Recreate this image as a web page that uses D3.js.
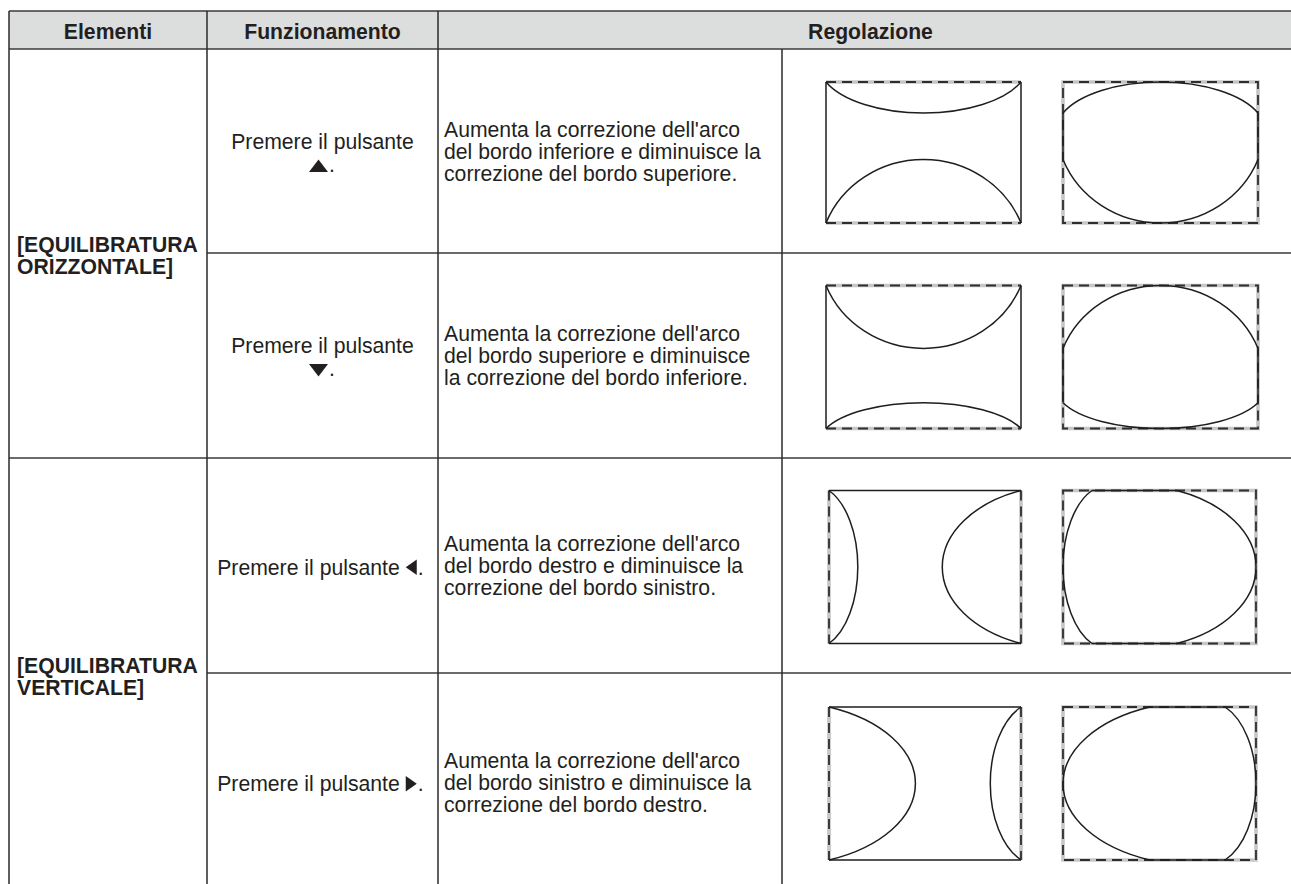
<!DOCTYPE html>
<html><head><meta charset="utf-8">
<script src="https://cdn.jsdelivr.net/npm/d3@7"></script>
<style>html,body{margin:0;padding:0;background:#fff;} svg{display:block;}</style>
</head><body><svg id="c" width="1291" height="884"></svg>
<script>
// ---------- data ----------
const headers = ["Elementi", "Funzionamento", "Regolazione"];
const groups = [["[EQUILIBRATURA", "ORIZZONTALE]"], ["[EQUILIBRATURA", "VERTICALE]"]];
const groupRows = [[0, 1], [2, 3]];
const opLabel = "Premere il pulsante";
const opArrows = ["up", "down", "left", "right"];
const descriptions = [
  ["Aumenta la correzione dell'arco", "del bordo inferiore e diminuisce la", "correzione del bordo superiore."],
  ["Aumenta la correzione dell'arco", "del bordo superiore e diminuisce", "la correzione del bordo inferiore."],
  ["Aumenta la correzione dell'arco", "del bordo destro e diminuisce la", "correzione del bordo sinistro."],
  ["Aumenta la correzione dell'arco", "del bordo sinistro e diminuisce la", "correzione del bordo destro."]
];
const shapeAxis = ["h", "h", "v", "v"];     // which pair of edges is bowed
const bowStart = [0.22, 0.44, 0.15, 0.45];  // top (h) / left (v) correction fraction
const bowEnd   = [0.45, 0.18, 0.41, 0.16];  // bottom (h) / right (v) correction fraction

// ---------- layout ----------
const FONT = "'Liberation Sans', Arial, Helvetica, sans-serif";
const FS = 21.2, LH = 22;
const colX = [9, 207, 438, 782, 1303];
const headTop = 11, headBot = 49;
const rowY = [49, 253, 458, 673, 891];
const boxH = [141, 143, 153, 153];
const boxX = {h: [[826, 1021], [1063, 1258]], v: [[829, 1021], [1063, 1256]]};
const textCol = "#231f20", lineCol = "#3a3a3a";
const K = 0.93; // how far the arc ellipse extends beyond the chord

const svg = d3.select("#c");
const g = svg.append("g");

// header
g.append("rect").attr("x", colX[0]).attr("y", headTop).attr("width", colX[4] - colX[0])
  .attr("height", headBot - headTop).attr("fill", "#dcdddd");
const headCenters = [(colX[0] + colX[1]) / 2, (colX[1] + colX[2]) / 2, (colX[2] + colX[4]) / 2];
g.selectAll("text.head").data(headers).join("text").attr("class", "head")
  .attr("x", (d, i) => headCenters[i]).attr("y", (headTop + headBot) / 2 + 1)
  .attr("dy", "0.36em").attr("text-anchor", "middle")
  .attr("font-family", FONT).attr("font-size", FS).attr("font-weight", "bold")
  .attr("fill", textCol).text(d => d);

// grid lines
const hLines = [
  [colX[0], colX[4], headTop], [colX[0], colX[4], headBot],
  [colX[1], colX[4], rowY[1]], [colX[0], colX[4], rowY[2]], [colX[1], colX[4], rowY[3]]
];
const vLines = [
  [colX[0], headTop, rowY[4]], [colX[1], headTop, rowY[4]], [colX[2], headTop, rowY[4]], [colX[3], headBot, rowY[4]]
];
g.selectAll("line.h").data(hLines).join("line").attr("class", "h")
  .attr("x1", d => d[0]).attr("x2", d => d[1]).attr("y1", d => d[2]).attr("y2", d => d[2])
  .attr("stroke", lineCol).attr("stroke-width", 1.7);
g.selectAll("line.v").data(vLines).join("line").attr("class", "v")
  .attr("x1", d => d[0]).attr("x2", d => d[0]).attr("y1", d => d[1]).attr("y2", d => d[2])
  .attr("stroke", "#2a2a2a").attr("stroke-width", 1.5);

// group labels
groups.forEach((lines, gi) => {
  const [r0, r1] = groupRows[gi];
  const cy = (rowY[r0] + rowY[r1 + 1]) / 2 + 2;
  lines.forEach((t, li) => {
    g.append("text").attr("x", colX[0] + 8).attr("y", cy + (li - (lines.length - 1) / 2) * LH)
      .attr("dy", "0.36em").attr("font-family", FONT).attr("font-size", FS).attr("font-weight", "bold")
      .attr("fill", textCol).text(t);
  });
});

// arrow glyph path, anchored at left x, baseline y
function arrowPath(dir, x, base) {
  const p = d3.path();
  if (dir === "up") { p.moveTo(x, base); p.lineTo(x + 19, base); p.lineTo(x + 9.5, base - 12.5); }
  else if (dir === "down") { p.moveTo(x, base - 12.5); p.lineTo(x + 19, base - 12.5); p.lineTo(x + 9.5, base); }
  else if (dir === "left") { p.moveTo(x + 11, base - 15); p.lineTo(x + 11, base + 0.5); p.lineTo(x, base - 7.25); }
  else { p.moveTo(x, base - 15); p.lineTo(x, base + 0.5); p.lineTo(x + 11, base - 7.25); }
  p.closePath();
  return p.toString();
}
const arrowW = {up: 19, down: 19, left: 11, right: 11};

// operation column
opArrows.forEach((dir, r) => {
  const cx = (colX[1] + colX[2]) / 2;
  const cy = (rowY[r] + rowY[r + 1]) / 2 + 1;
  const mk = (x, y, t, anchor) => g.append("text").attr("x", x).attr("y", y)
    .attr("text-anchor", anchor).attr("font-family", FONT).attr("font-size", FS).attr("fill", textCol).text(t);
  if (dir === "up" || dir === "down") {
    const b1 = cy - LH / 2 + 7.5, b2 = cy + LH / 2 + 8.5;
    mk(cx, b1, opLabel, "middle");
    const dotW = 6, tot = arrowW[dir] + 2 + dotW;
    const x0 = cx - tot / 2;
    g.append("path").attr("d", arrowPath(dir, x0, b2 + 0.5)).attr("fill", textCol);
    mk(x0 + arrowW[dir] + 1, b2, ".", "start");
  } else {
    const base = cy + 8;
    const t = mk(0, base, opLabel, "start");
    const tw = t.node().getComputedTextLength() + 6;
    const tot = tw + arrowW[dir] + 7;
    const x0 = cx - tot / 2 - 2;
    t.attr("x", x0);
    g.append("path").attr("d", arrowPath(dir, x0 + tw, base)).attr("fill", textCol);
    mk(x0 + tw + arrowW[dir] + 1, base, ".", "start");
  }
});

// description column
descriptions.forEach((lines, r) => {
  const cy = (rowY[r] + rowY[r + 1]) / 2;
  lines.forEach((t, li) => {
    g.append("text").attr("x", colX[2] + 6).attr("y", cy + (li - (lines.length - 1) / 2) * LH)
      .attr("dy", "0.36em").attr("font-family", FONT).attr("font-size", FS).attr("fill", textCol).text(t);
  });
});

// diagrams
function dashed(sel, d) {
  sel.append("path").attr("d", d).attr("fill", "none").attr("stroke", "#c6c6c6").attr("stroke-width", 3.6);
  sel.append("path").attr("d", d).attr("fill", "none").attr("stroke", "#2e2e2e").attr("stroke-width", 1.8)
    .attr("stroke-dasharray", "10,6");
}
function solid(sel, d) {
  sel.append("path").attr("d", d).attr("fill", "none").attr("stroke", "#1e1e1e").attr("stroke-width", 1.5);
}
function seg(x, y, a, b, c, e) { return `M${x(a)},${y(b)}L${x(c)},${y(e)}`; }
// elliptical arc across a chord with sagitta `sag`; horizontal or vertical chord
function arc(x1, y1, x2, y2, sag, sweep) {
  const half = Math.hypot(x2 - x1, y2 - y1) / 2;
  const along = half / K;
  const across = sag / (1 - Math.sqrt(1 - K * K));
  const horiz = Math.abs(y2 - y1) < 1e-6;
  const rx = horiz ? along : across, ry = horiz ? across : along;
  return `M${x1},${y1}A${rx},${ry} 0 0 ${sweep} ${x2},${y2}`;
}

shapeAxis.forEach((ax, r) => {
  const cy = (rowY[r] + rowY[r + 1]) / 2 + 1.5;
  const yS = d3.scaleLinear().domain([0, 1]).range([cy - boxH[r] / 2, cy + boxH[r] / 2]);
  const a = bowStart[r], b = bowEnd[r];
  boxX[ax].forEach((bx, k) => {
    const xS = d3.scaleLinear().domain([0, 1]).range(bx);
    const W = bx[1] - bx[0], H = boxH[r];
    const s = g.append("g");
    if (ax === "h") {
      if (k === 0) {
        dashed(s, seg(xS, yS, 0, 0, 1, 0) + seg(xS, yS, 0, 1, 1, 1));
        solid(s, seg(xS, yS, 0, 0, 0, 1) + seg(xS, yS, 1, 0, 1, 1));
        solid(s, arc(xS(0), yS(0), xS(1), yS(0), a * H, 0));
        solid(s, arc(xS(0), yS(1), xS(1), yS(1), b * H, 1));
      } else {
        dashed(s, `M${xS(0)},${yS(0)}H${xS(1)}V${yS(1)}H${xS(0)}Z`);
        solid(s, seg(xS, yS, 0, a, 0, 1 - b) + seg(xS, yS, 1, a, 1, 1 - b));
        solid(s, arc(xS(0), yS(a), xS(1), yS(a), a * H, 1));
        solid(s, arc(xS(0), yS(1 - b), xS(1), yS(1 - b), b * H, 0));
      }
    } else {
      if (k === 0) {
        dashed(s, seg(xS, yS, 0, 0, 0, 1) + seg(xS, yS, 1, 0, 1, 1));
        solid(s, seg(xS, yS, 0, 0, 1, 0) + seg(xS, yS, 0, 1, 1, 1));
        solid(s, arc(xS(0), yS(0), xS(0), yS(1), a * W, 1));
        solid(s, arc(xS(1), yS(0), xS(1), yS(1), b * W, 0));
      } else {
        dashed(s, `M${xS(0)},${yS(0)}H${xS(1)}V${yS(1)}H${xS(0)}Z`);
        solid(s, seg(xS, yS, a, 0, 1 - b, 0) + seg(xS, yS, a, 1, 1 - b, 1));
        solid(s, arc(xS(a), yS(0), xS(a), yS(1), a * W, 0));
        solid(s, arc(xS(1 - b), yS(0), xS(1 - b), yS(1), b * W, 1));
      }
    }
  });
});
</script></body></html>
